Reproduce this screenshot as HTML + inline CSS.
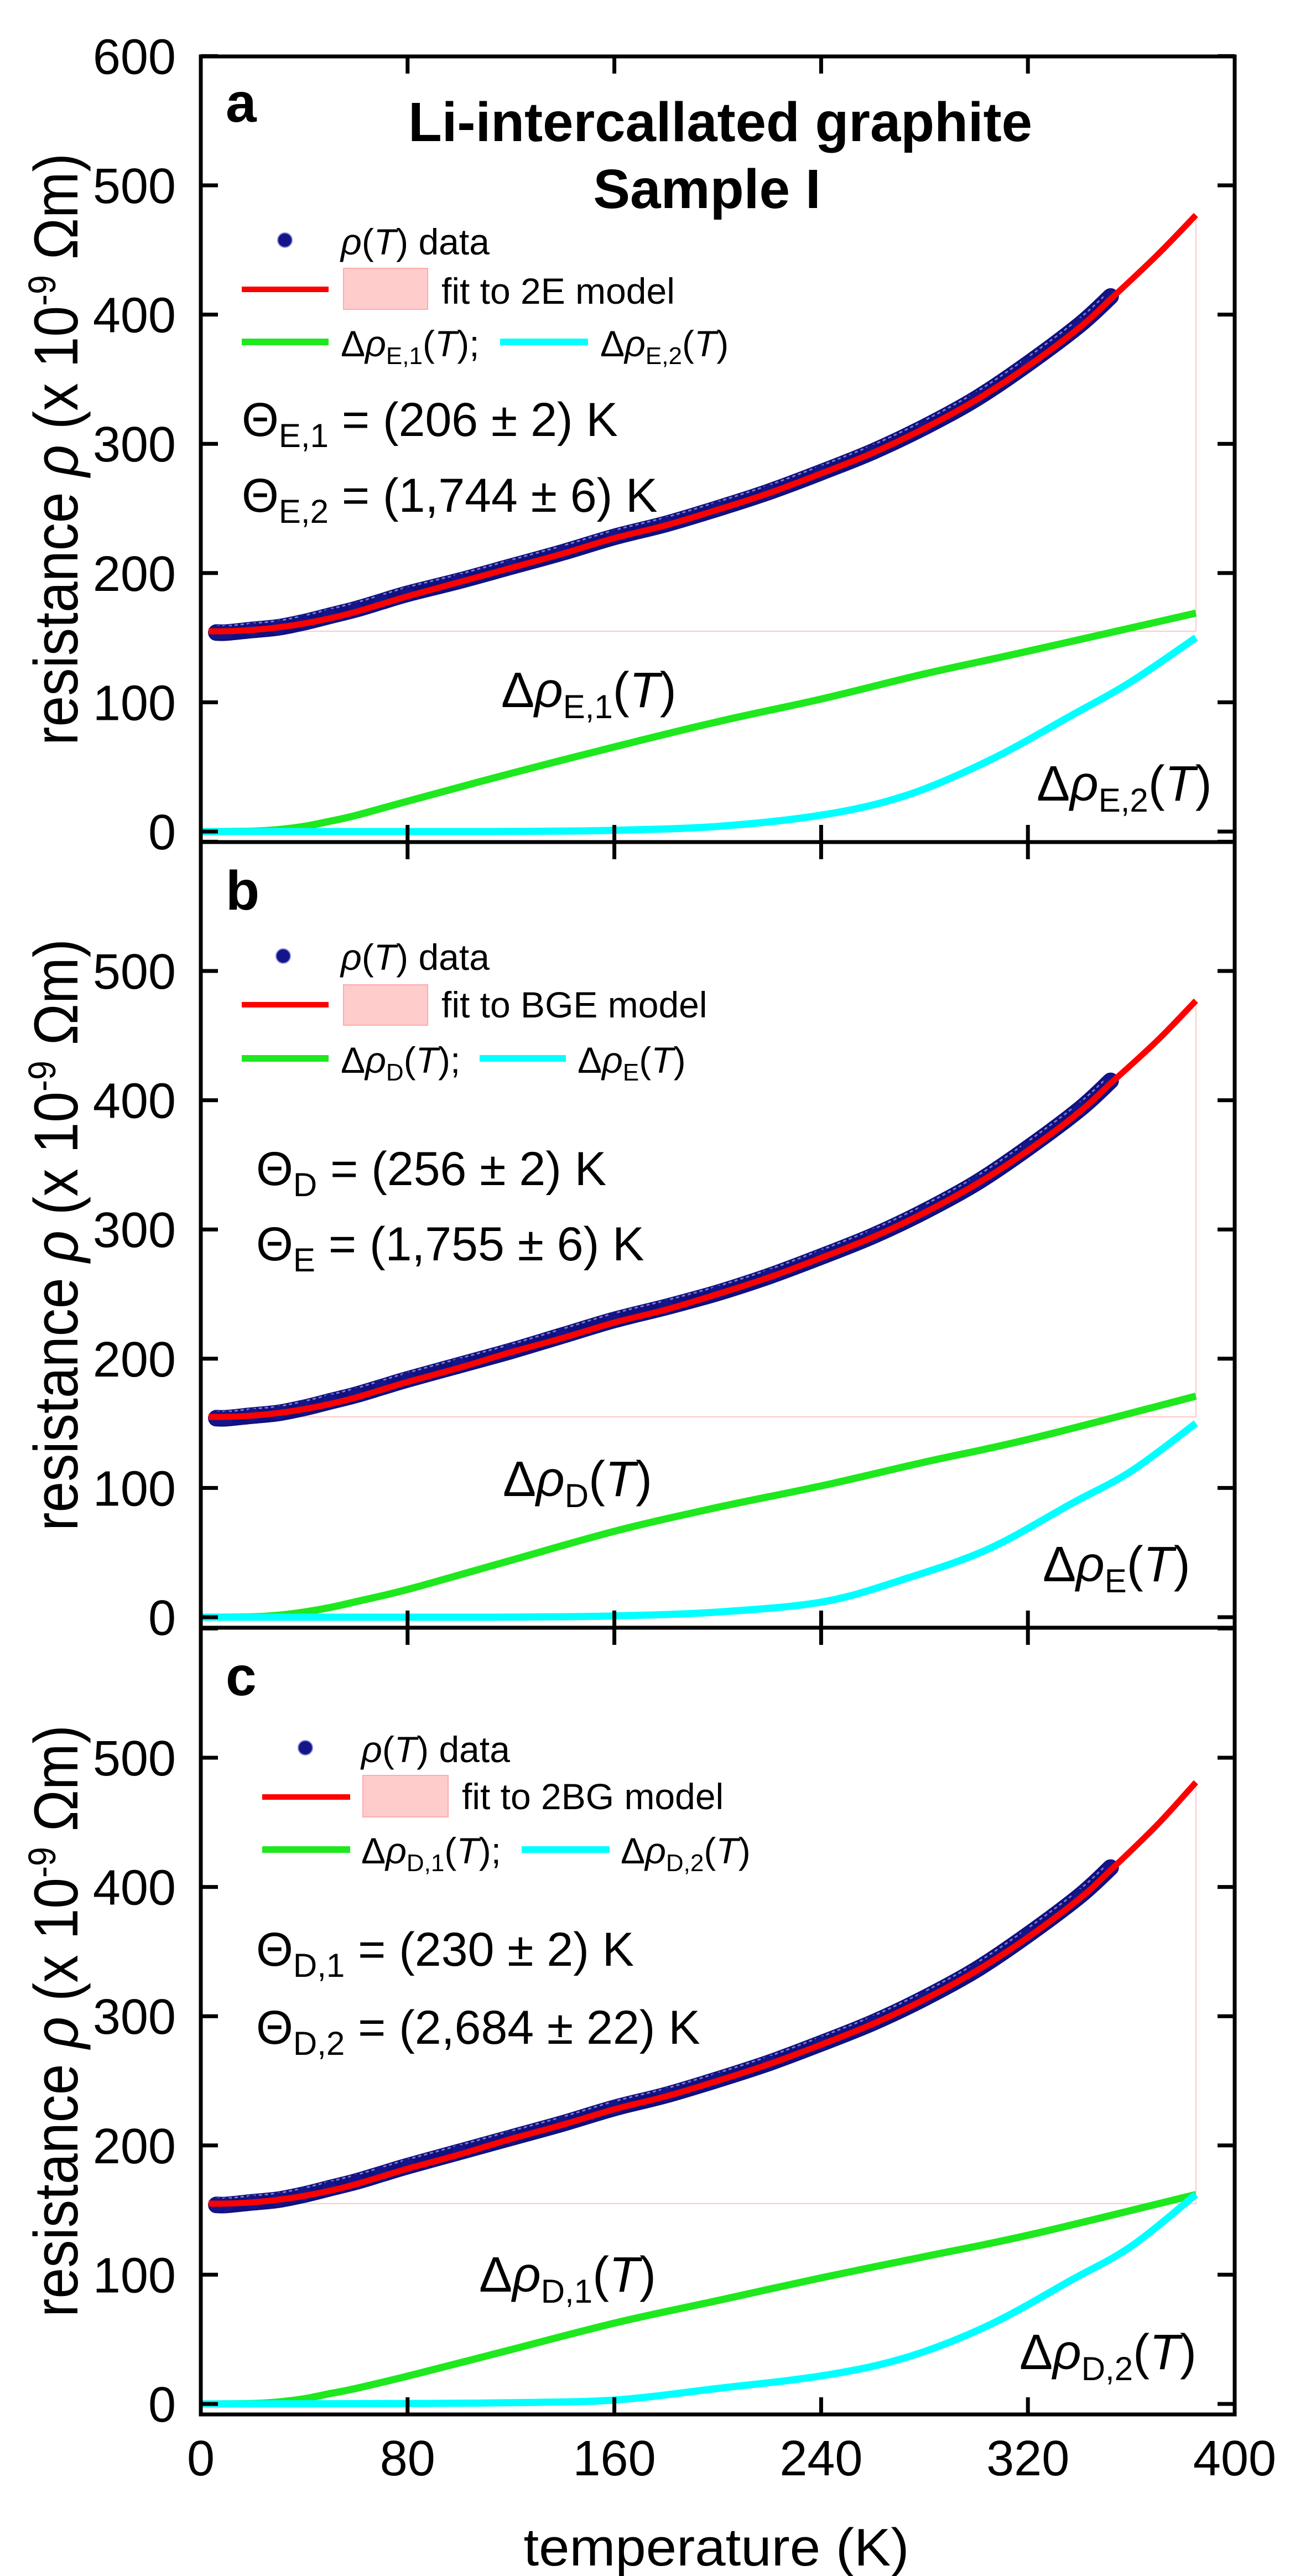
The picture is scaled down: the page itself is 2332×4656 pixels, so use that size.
<!DOCTYPE html>
<html><head><meta charset="utf-8">
<style>
html,body{margin:0;padding:0;background:#fff;}
svg{display:block;font-family:"Liberation Sans",Arial,sans-serif;}
.tick{font-size:90px;fill:#000;}
.leg{font-size:66px;fill:#000;}
.ann{font-size:90px;fill:#000;}
.theta{font-size:86px;fill:#000;}
.it{font-style:italic;}
</style></head>
<body>
<svg id="chart" width="2332" height="4656" viewBox="0 0 2332 4656" xmlns="http://www.w3.org/2000/svg">
<g id="marks"></g>
<g id="frames"></g>

<text x="408" y="220" font-size="100" font-weight="bold">a</text>
<text x="1302" y="255" font-size="100" font-weight="bold" text-anchor="middle" textLength="1128" lengthAdjust="spacingAndGlyphs">Li-intercallated graphite</text>
<text x="1278" y="376" font-size="100" font-weight="bold" text-anchor="middle">Sample I</text>

<text class="leg" x="616" y="460"><tspan class="it">ρ</tspan>(<tspan class="it">T</tspan>) data</text>
<text class="leg" x="798" y="549">fit to 2E model</text>
<text class="leg" x="616" y="644">Δ<tspan class="it">ρ</tspan><tspan font-size="44" dy="14">E,1</tspan><tspan dy="-14">(</tspan><tspan class="it">T</tspan>);</text>
<text class="leg" x="1085" y="644">Δ<tspan class="it">ρ</tspan><tspan font-size="44" dy="14">E,2</tspan><tspan dy="-14">(</tspan><tspan class="it">T</tspan>)</text>
<text class="theta" x="437" y="788">Θ<tspan font-size="60" dy="20">E,1</tspan><tspan dy="-20"> = (206 ± 2) K</tspan></text>
<text class="theta" x="437" y="925">Θ<tspan font-size="60" dy="20">E,2</tspan><tspan dy="-20"> = (1,744 ± 6) K</tspan></text>
<text class="ann" x="906" y="1278">Δ<tspan class="it">ρ</tspan><tspan font-size="60" dy="20">E,1</tspan><tspan dy="-20">(</tspan><tspan class="it">T</tspan>)</text>
<text class="ann" x="1874" y="1447">Δ<tspan class="it">ρ</tspan><tspan font-size="60" dy="20">E,2</tspan><tspan dy="-20">(</tspan><tspan class="it">T</tspan>)</text>

<text x="408" y="1644" font-size="100" font-weight="bold">b</text>
<text class="leg" x="616" y="1753"><tspan class="it">ρ</tspan>(<tspan class="it">T</tspan>) data</text>
<text class="leg" x="798" y="1839">fit to BGE model</text>
<text class="leg" x="616" y="1939">Δ<tspan class="it">ρ</tspan><tspan font-size="44" dy="14">D</tspan><tspan dy="-14">(</tspan><tspan class="it">T</tspan>);</text>
<text class="leg" x="1044" y="1939">Δ<tspan class="it">ρ</tspan><tspan font-size="44" dy="14">E</tspan><tspan dy="-14">(</tspan><tspan class="it">T</tspan>)</text>
<text class="theta" x="463" y="2142">Θ<tspan font-size="60" dy="20">D</tspan><tspan dy="-20"> = (256 ± 2) K</tspan></text>
<text class="theta" x="463" y="2278">Θ<tspan font-size="60" dy="20">E</tspan><tspan dy="-20"> = (1,755 ± 6) K</tspan></text>
<text class="ann" x="909" y="2704">Δ<tspan class="it">ρ</tspan><tspan font-size="60" dy="20">D</tspan><tspan dy="-20">(</tspan><tspan class="it">T</tspan>)</text>
<text class="ann" x="1885" y="2858">Δ<tspan class="it">ρ</tspan><tspan font-size="60" dy="20">E</tspan><tspan dy="-20">(</tspan><tspan class="it">T</tspan>)</text>

<text x="408" y="3064" font-size="100" font-weight="bold">c</text>
<text class="leg" x="653" y="3185"><tspan class="it">ρ</tspan>(<tspan class="it">T</tspan>) data</text>
<text class="leg" x="835" y="3270">fit to 2BG model</text>
<text class="leg" x="653" y="3368">Δ<tspan class="it">ρ</tspan><tspan font-size="44" dy="14">D,1</tspan><tspan dy="-14">(</tspan><tspan class="it">T</tspan>);</text>
<text class="leg" x="1122" y="3368">Δ<tspan class="it">ρ</tspan><tspan font-size="44" dy="14">D,2</tspan><tspan dy="-14">(</tspan><tspan class="it">T</tspan>)</text>
<text class="theta" x="463" y="3553">Θ<tspan font-size="60" dy="20">D,1</tspan><tspan dy="-20"> = (230 ± 2) K</tspan></text>
<text class="theta" x="463" y="3694">Θ<tspan font-size="60" dy="20">D,2</tspan><tspan dy="-20"> = (2,684 ± 22) K</tspan></text>
<text class="ann" x="866" y="4142">Δ<tspan class="it">ρ</tspan><tspan font-size="60" dy="20">D,1</tspan><tspan dy="-20">(</tspan><tspan class="it">T</tspan>)</text>
<text class="ann" x="1843" y="4282">Δ<tspan class="it">ρ</tspan><tspan font-size="60" dy="20">D,2</tspan><tspan dy="-20">(</tspan><tspan class="it">T</tspan>)</text>

<text x="1295" y="4637" font-size="96" text-anchor="middle" textLength="697" lengthAdjust="spacingAndGlyphs">temperature (K)</text>
<text transform="translate(140,812) rotate(-90)" font-size="112" text-anchor="middle" textLength="1070" lengthAdjust="spacingAndGlyphs">resistance <tspan class="it">ρ</tspan> (x 10<tspan font-size="70" dy="-40">-9</tspan><tspan dy="40"> Ωm)</tspan></text>
<text transform="translate(140,2232) rotate(-90)" font-size="112" text-anchor="middle" textLength="1070" lengthAdjust="spacingAndGlyphs">resistance <tspan class="it">ρ</tspan> (x 10<tspan font-size="70" dy="-40">-9</tspan><tspan dy="40"> Ωm)</tspan></text>
<text transform="translate(140,3653) rotate(-90)" font-size="112" text-anchor="middle" textLength="1070" lengthAdjust="spacingAndGlyphs">resistance <tspan class="it">ρ</tspan> (x 10<tspan font-size="70" dy="-40">-9</tspan><tspan dy="40"> Ωm)</tspan></text>
</svg>

<script>
const xTicks = [0, 80, 160, 240, 320, 400];
const yTicks = [0, 100, 200, 300, 400, 500, 600];
const dataT = [6, 10, 20, 30, 40, 50, 60, 70, 80, 100, 120, 140, 160, 180, 200, 220, 240, 260, 280, 300, 320, 340, 352];
const dataRhoA = [154, 154, 156, 158, 162, 167, 172, 178, 184, 194, 205, 216, 228, 238, 250, 263, 278, 294, 313, 335, 362, 392, 414];
const dataRhoB = [154, 154, 156, 158, 162, 167, 172, 178, 184, 195, 206, 218, 230, 240, 251, 264, 279, 295, 314, 336, 363, 393, 415];
const dataRhoC = [154, 154, 156, 158, 162, 167, 172, 178, 184, 195, 206, 217, 229, 239, 251, 264, 279, 295, 314, 336, 363, 393, 415];
const fitT = [3, 10, 20, 30, 40, 50, 60, 70, 80, 100, 120, 140, 160, 180, 200, 220, 240, 260, 280, 300, 320, 340, 352, 370, 385];
const fitRhoA = [155, 155, 156, 158, 161, 165, 170, 176, 182, 193, 204, 215, 227, 237, 249, 262, 277, 293, 312, 334, 360, 390, 412, 446, 477];
const fitRhoB = [155, 155, 156, 158, 161, 165, 170, 176, 182, 193, 205, 216, 228, 238, 250, 263, 278, 294, 313, 335, 361, 391, 413, 446, 477];
const fitRhoC = [155, 155, 156, 158, 161, 165, 170, 176, 182, 193, 205, 216, 228, 238, 250, 263, 278, 294, 313, 335, 361, 391, 413, 448, 481];
const greenT = [0, 20, 30, 40, 50, 60, 81, 120, 161, 200, 241, 280, 321, 385];
const greenA = [0, 0.3, 1.5, 4, 8, 12.5, 24, 45, 66, 85, 103, 122, 140, 169];
const greenB = [0, 0.3, 1.5, 4, 7.5, 12, 22, 44, 67, 85, 102, 120, 138, 171];
const greenC = [0, 0.3, 1.5, 4, 8, 12, 22, 42, 63, 80, 98, 114, 131, 162];
const cyanT = [0, 80, 120, 160, 200, 241, 273, 305, 337, 360, 385];
const cyanA = [0, 0, 0.1, 1, 4, 13, 28, 55, 90, 116, 150];
const cyanB = [0, 0, 0.1, 1, 4, 12, 30, 53, 88, 113, 150];
const cyanC = [0, 0.3, 1, 3, 12, 22, 36, 61, 96, 122, 162];

const NS = 'http://www.w3.org/2000/svg';
const X0 = 363, X1 = 2232;
const xScale = T => X0 + (T / 400) * (X1 - X0);
const PX_PER_UNIT = 2.336;
const panels = [
  {id: 'a', top: 102, bottom: 1522, zero: 1503, data: dataRhoA, fit: fitRhoA, green: greenA, cyan: cyanA, top600: true},
  {id: 'b', top: 1522, bottom: 2942, zero: 2923, data: dataRhoB, fit: fitRhoB, green: greenB, cyan: cyanB, top600: false},
  {id: 'c', top: 2942, bottom: 4364, zero: 4345, data: dataRhoC, fit: fitRhoC, green: greenC, cyan: cyanC, top600: false}
];
const marks = document.getElementById('marks');
const frames = document.getElementById('frames');

function mk(tag, attrs, parent) {
  const el = document.createElementNS(NS, tag);
  for (const k in attrs) el.setAttribute(k, attrs[k]);
  parent.appendChild(el);
  return el;
}
// smooth (Catmull-Rom) path through the data points
function pathFrom(ts, vs, yS) {
  const P = ts.map((t, i) => [xScale(t), yS(vs[i])]);
  let d = 'M' + P[0][0].toFixed(1) + ' ' + P[0][1].toFixed(1);
  for (let i = 0; i < P.length - 1; i++) {
    const p0 = P[i - 1] || P[i], p1 = P[i], p2 = P[i + 1], p3 = P[i + 2] || P[i + 1];
    const c1 = [p1[0] + (p2[0] - p0[0]) / 6, p1[1] + (p2[1] - p0[1]) / 6];
    const c2 = [p2[0] - (p3[0] - p1[0]) / 6, p2[1] - (p3[1] - p1[1]) / 6];
    d += ' C' + c1[0].toFixed(1) + ' ' + c1[1].toFixed(1) + ' ' + c2[0].toFixed(1) + ' ' + c2[1].toFixed(1) + ' ' + p2[0].toFixed(1) + ' ' + p2[1].toFixed(1);
  }
  return d;
}

panels.forEach(p => {
  const yS = v => p.zero - v * PX_PER_UNIT;
  const g = mk('g', {}, marks);
  
  

  const base = p.fit[0];
  const lastT = fitT[fitT.length - 1];
  const outline = mk('path', {d: 'M' + xScale(dataT[0]) + ' ' + yS(base) + ' L' + xScale(lastT) + ' ' + yS(base) + ' L' + xScale(lastT) + ' ' + yS(p.fit[p.fit.length - 1]), fill: 'none', stroke: '#ffc8c8', 'stroke-width': 2}, g);
  
  

  const gl = mk('path', {d: pathFrom(greenT, p.green, yS), fill: 'none', stroke: '#1ee81e', 'stroke-width': 13, 'stroke-linejoin': 'round'}, g);
  
  
  const cl = mk('path', {d: pathFrom(cyanT, p.cyan, yS), fill: 'none', stroke: '#00ffff', 'stroke-width': 13, 'stroke-linejoin': 'round'}, g);
  
  

  const band = mk('path', {d: pathFrom(dataT, p.data, yS), fill: 'none', stroke: '#101080', 'stroke-width': 30, 'stroke-linejoin': 'round', 'stroke-linecap': 'round'}, g);
  
  
  const band2 = mk('path', {d: pathFrom(dataT, p.data, yS), fill: 'none', stroke: '#7878c8', 'stroke-width': 3, 'stroke-dasharray': '6 5', transform: 'translate(0,-12)'}, g);
  
  
  dataT.forEach((t, i) => {
    const c = mk('circle', {cx: xScale(t), cy: yS(p.data[i]), r: 13, fill: '#15158a'}, g);
    
    
  });
  const rl = mk('path', {d: pathFrom(fitT, p.fit, yS), fill: 'none', stroke: '#ff0000', 'stroke-width': 11, 'stroke-linejoin': 'round'}, g);
  
  

  const fr = mk('rect', {x: X0, y: p.top, width: X1 - X0, height: p.bottom - p.top, fill: 'none', stroke: '#000', 'stroke-width': 7}, frames);
  
  

  yTicks.forEach(v => {
    const y = yS(v);
    if (y < p.top - 2) return;
    const t1 = mk('line', {x1: X0, x2: X0 + 31, y1: y, y2: y, stroke: '#000', 'stroke-width': 7}, frames);
    
    
    const t2 = mk('line', {x1: X1 - 31, x2: X1, y1: y, y2: y, stroke: '#000', 'stroke-width': 7}, frames);
    
    
    if (v === 600 && !p.top600) return;
    const lb = mk('text', {x: 318, y: y + 32, 'text-anchor': 'end', class: 'tick'}, frames);
    lb.textContent = v;
    
    
  });
  xTicks.forEach(T => {
    if (T === 0 || T === 400) return;
    const x = xScale(T);
    const a = mk('line', {x1: x, x2: x, y1: p.top, y2: p.top + 31, stroke: '#000', 'stroke-width': 7}, frames);
    
    
    const b = mk('line', {x1: x, x2: x, y1: p.bottom - 31, y2: p.bottom, stroke: '#000', 'stroke-width': 7}, frames);
    
    
  });
});

xTicks.forEach(T => {
  const lb = mk('text', {x: xScale(T), y: 4474, 'text-anchor': 'middle', class: 'tick'}, frames);
  lb.textContent = T;
  
  
});

const legends = [
  {id: 'a', dot: [515, 434], lx: 437, lx2: 594, ry: 523, gy: 618, box: [621, 485, 152, 74], cx: 904, cx2: 1063},
  {id: 'b', dot: [512, 1728], lx: 437, lx2: 594, ry: 1816, gy: 1913, box: [621, 1780, 152, 73], cx: 867, cx2: 1023},
  {id: 'c', dot: [552, 3159], lx: 474, lx2: 633, ry: 3248, gy: 3343, box: [656, 3209, 154, 75], cx: 943, cx2: 1102}
];
legends.forEach(L => {
  const g = mk('g', {}, marks);
  
  
  const d = mk('circle', {cx: L.dot[0], cy: L.dot[1], r: 13, fill: '#15158a', stroke: '#8a8ad8', 'stroke-width': 2}, g);
  
  
  const r = mk('line', {x1: L.lx, x2: L.lx2, y1: L.ry, y2: L.ry, stroke: '#ff0000', 'stroke-width': 10}, g);
  
  
  const b = mk('rect', {x: L.box[0], y: L.box[1], width: L.box[2], height: L.box[3], fill: '#ffcccc', stroke: '#ffaaaa', 'stroke-width': 2}, g);
  
  
  const gr = mk('line', {x1: L.lx, x2: L.lx2, y1: L.gy, y2: L.gy, stroke: '#1ee81e', 'stroke-width': 12}, g);
  
  
  const cy = mk('line', {x1: L.cx, x2: L.cx2, y1: L.gy, y2: L.gy, stroke: '#00ffff', 'stroke-width': 12}, g);
  
  
});
</script>
</body></html>
